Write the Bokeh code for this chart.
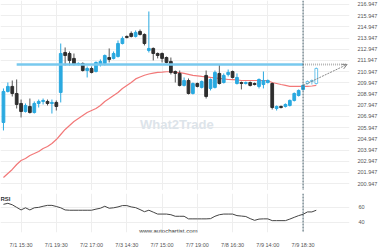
from bokeh.plotting import figure
from bokeh.layouts import column
from bokeh.models import (ColumnDataSource, FixedTicker, PrintfTickFormatter, Range1d,
                          Span, Arrow, OpenHead, Label)
from bokeh.embed import file_html
from bokeh.resources import INLINE

# ---------------- data ----------------
opens = [206.41, 209.18, 209.63, 209.00, 208.11, 207.39, 207.84, 207.30, 208.11, 208.29,
         208.29, 208.11, 208.20, 209.09, 212.66, 212.57, 212.13, 211.59, 211.68, 211.05,
         211.23, 210.96, 211.59, 211.68, 212.21, 212.13, 212.30, 213.46, 214.09, 214.36,
         214.09, 214.54, 214.27, 212.84, 213.02, 212.57, 212.57, 212.21, 211.86, 210.96,
         210.79, 209.72, 210.16, 209.00, 209.89, 209.54, 210.61, 209.45, 209.54, 210.79,
         209.98, 210.70, 210.96, 209.89, 209.98, 209.89, 209.98, 209.89, 209.63, 209.80,
         209.98, 209.89, 207.66, 207.84, 207.84, 207.93, 208.38, 208.82, 209.36, 209.89,
         210.07, 209.89]
closes = [209.18, 209.63, 209.00, 208.02, 207.39, 207.93, 207.30, 208.11, 208.29, 208.38,
          208.11, 208.20, 207.84, 212.57, 212.39, 211.95, 211.59, 211.68, 211.05, 211.23,
          210.88, 211.77, 211.86, 212.39, 212.04, 212.57, 213.46, 213.91, 214.00, 214.09,
          214.45, 214.27, 213.46, 213.02, 212.57, 212.39, 212.13, 211.77, 210.88, 210.79,
          209.72, 210.16, 209.00, 209.89, 209.63, 210.07, 208.73, 210.25, 210.88, 209.89,
          210.61, 210.88, 210.43, 210.43, 209.89, 209.98, 209.72, 209.80, 210.25, 210.16,
          210.16, 207.75, 207.84, 207.75, 208.02, 208.38, 209.00, 209.27, 209.72, 210.07,
          210.16, 211.23]
highs = [209.45, 209.98, 210.16, 210.25, 208.46, 208.11, 208.55, 208.29, 208.46, 208.55,
         208.46, 208.46, 208.38, 213.46, 213.11, 212.75, 212.57, 211.77, 211.77, 211.41,
         211.41, 211.86, 212.04, 212.48, 213.02, 212.75, 213.73, 214.09, 214.18, 214.54,
         214.63, 214.71, 214.36, 216.32, 213.11, 212.66, 212.66, 212.30, 212.21, 211.05,
         211.05, 210.43, 210.34, 209.98, 209.98, 210.16, 211.05, 210.34, 211.05, 211.59,
         210.79, 211.14, 211.05, 210.79, 210.07, 210.07, 210.07, 209.98, 210.34, 210.96,
         210.25, 209.98, 207.93, 207.93, 208.11, 208.46, 209.09, 209.36, 209.80, 210.16,
         210.25, 211.32]
lows = [205.70, 209.09, 208.73, 207.66, 206.86, 207.30, 207.21, 207.21, 207.75, 208.02,
        207.93, 207.21, 207.48, 208.20, 211.50, 211.50, 211.50, 211.50, 210.96, 210.43,
        210.79, 210.88, 211.41, 211.50, 211.77, 212.04, 212.21, 213.38, 213.91, 214.00,
        214.00, 214.18, 213.29, 212.66, 211.95, 212.13, 211.77, 211.68, 210.70, 209.98,
        209.63, 209.63, 208.91, 208.91, 209.54, 209.45, 208.55, 209.27, 209.45, 209.80,
        209.89, 210.52, 210.34, 209.80, 209.36, 209.80, 209.63, 209.72, 209.45, 209.45,
        209.89, 207.57, 207.48, 207.66, 207.75, 207.84, 208.29, 208.73, 209.27, 209.80,
        209.80, 209.80]
ma_values = [201.50, 201.86, 202.22, 202.66, 203.02, 203.20, 203.47, 203.64, 203.82, 204.09,
             204.27, 204.54, 204.89, 205.34, 205.79, 206.14, 206.50, 206.77, 207.04, 207.30,
             207.48, 207.66, 207.93, 208.29, 208.55, 208.82, 209.09, 209.45, 209.72, 209.98,
             210.30, 210.47, 210.63, 210.74, 210.82, 210.88, 210.90, 210.94, 210.94, 210.88,
             210.86, 210.79, 210.70, 210.61, 210.58, 210.52, 210.49, 210.43, 210.40, 210.34,
             210.31, 210.25, 210.23, 210.21, 210.16, 210.16, 210.16, 210.16, 210.16, 210.16,
             210.14, 209.98, 209.89, 209.80, 209.72, 209.63, 209.63, 209.63, 209.63, 209.63,
             209.67, 209.72]
rsi_values = [64.1, 65.5, 63.5, 60.0, 56.5, 59.4, 56.5, 59.4, 60.0, 61.5,
              62.7, 62.7, 61.2, 59.4, 56.5, 56.1, 56.1, 56.1, 56.1, 56.1,
              56.1, 57.6, 58.8, 61.5, 58.8, 59.4, 60.6, 62.4, 62.4, 60.6,
              59.6, 57.0, 54.1, 56.1, 53.5, 50.9, 50.9, 50.9, 50.0, 47.9,
              47.9, 47.9, 44.4, 44.4, 44.4, 44.4, 44.4, 44.7, 47.9, 50.0,
              50.9, 50.9, 50.9, 48.8, 48.2, 47.6, 44.7, 42.4, 44.1, 44.4,
              44.4, 42.0, 42.0, 42.0, 42.0, 44.1, 46.5, 48.8, 50.6, 53.8,
              53.8, 56.1]
tick_positions = [4, 12, 20, 28, 36, 44, 52, 60, 68]
tick_labels = ["7/1 15:30", "7/1 19:30", "7/2 17:00", "7/3 14:30", "7/7 15:00",
               "7/7 19:00", "7/8 16:30", "7/9 14:00", "7/9 18:30"]
price_ticks = [200.947, 201.947, 202.947, 203.947, 204.947, 205.947, 206.947, 207.947,
               208.947, 209.947, 210.947, 211.947, 212.947, 213.947, 214.947, 215.947, 216.947]
rsi_ticks = [40, 60]
resistance_level = 211.59
resistance_start = 3
breakout_index = 68
projection_end = 78
hollow_from = 69

# ---------------- styling ----------------
BLUE = "#2aa9e0"
DARK = "#2e2e2e"
FONT = "Liberation Sans"
TICK_SIZE = "5.5px"
GRID = "#eeeeee"

idx = list(range(len(opens)))
tops, bottoms, fills, lines, wicks = [], [], [], [], []
for i, (o, c) in enumerate(zip(opens, closes)):
    tops.append(max(o, c))
    bottoms.append(min(o, c))
    if i >= hollow_from:
        fills.append("white"); lines.append("#6cc3ea"); wicks.append("#6cc3ea")
    elif c >= o:
        fills.append(BLUE); lines.append(BLUE); wicks.append(BLUE)
    else:
        fills.append(DARK); lines.append(DARK); wicks.append("#555555")
src = ColumnDataSource(dict(x=idx, top=tops, bottom=bottoms, high=highs, low=lows,
                            fill=fills, line=lines, wick=wicks))

x_start = -0.67
x_end = 78.54

# ---------------- price panel ----------------
p = figure(width=380, height=190, output_backend="svg", toolbar_location=None,
           x_range=Range1d(x_start, x_end), y_range=Range1d(200.34, 217.30),
           x_axis_location=None, y_axis_location="right",
           min_border_left=0, min_border_right=23, min_border_top=0, min_border_bottom=0)
p.outline_line_color = None
p.background_fill_color = "white"
p.border_fill_color = "white"
p.yaxis.ticker = FixedTicker(ticks=price_ticks)
p.yaxis.formatter = PrintfTickFormatter(format="%.3f")
p.yaxis.axis_line_color = None
p.yaxis.major_tick_line_color = None
p.yaxis.minor_tick_line_color = None
p.yaxis.major_label_standoff = 2
p.yaxis.major_label_text_font = FONT
p.yaxis.major_label_text_font_size = TICK_SIZE
p.yaxis.major_label_text_color = "#555555"
p.ygrid.ticker = FixedTicker(ticks=price_ticks)
p.ygrid.grid_line_color = GRID
p.xgrid.ticker = FixedTicker(ticks=tick_positions)
p.xgrid.grid_line_color = GRID

p.add_layout(Label(x=31, y=205.55, text="What2Trade", text_font=FONT,
                   text_font_size="13px", text_font_style="bold", text_color="#dde4ea"))

p.line(idx, ma_values, line_color="#f27878", line_width=1.2)
p.segment(x0="x", y0="low", x1="x", y1="high", line_color="wick", line_width=1, source=src)
p.vbar(x="x", top="top", bottom="bottom", width=0.62, fill_color="fill",
       line_color="line", line_width=1, source=src)

p.line([resistance_start, breakout_index], [resistance_level, resistance_level],
       line_color="#78c9ee", line_width=2.5)
p.line([breakout_index, projection_end], [resistance_level, resistance_level],
       line_color="#b5b5b5", line_width=2, line_dash="1 1")
p.add_layout(Arrow(end=OpenHead(size=5, line_color="#888888", line_width=1),
                   x_start=breakout_index, y_start=closes[breakout_index],
                   x_end=projection_end, y_end=resistance_level,
                   line_color="#888888", line_width=1, line_dash="2 1"))
p.add_layout(Span(location=breakout_index, dimension="height", line_color="#45606c",
                  line_width=1, line_dash="2 1"))

# ---------------- RSI panel ----------------
r = figure(width=380, height=60, output_backend="svg", toolbar_location=None,
           x_range=p.x_range, y_range=Range1d(25.9, 78.8), y_axis_location="right",
           min_border_left=0, min_border_right=23, min_border_top=3, min_border_bottom=12)
r.outline_line_color = None
r.background_fill_color = "white"
r.border_fill_color = "white"
r.yaxis.ticker = FixedTicker(ticks=rsi_ticks)
r.yaxis.axis_line_color = None
r.yaxis.major_tick_line_color = None
r.yaxis.minor_tick_line_color = None
r.yaxis.major_label_standoff = 3
r.yaxis.major_label_text_font = FONT
r.yaxis.major_label_text_font_size = TICK_SIZE
r.yaxis.major_label_text_color = "#555555"
r.xaxis.ticker = FixedTicker(ticks=tick_positions)
r.xaxis.major_label_overrides = {t: lab for t, lab in zip(tick_positions, tick_labels)}
r.xaxis.axis_line_color = None
r.xaxis.major_tick_line_color = None
r.xaxis.minor_tick_line_color = None
r.xaxis.major_label_standoff = 3
r.xaxis.major_label_text_font = FONT
r.xaxis.major_label_text_font_size = TICK_SIZE
r.xaxis.major_label_text_color = "#555555"
r.ygrid.ticker = FixedTicker(ticks=rsi_ticks)
r.ygrid.grid_line_color = GRID
r.xgrid.ticker = FixedTicker(ticks=tick_positions)
r.xgrid.grid_line_color = GRID

r.line(idx, rsi_values, line_color="#444444", line_width=1)
r.add_layout(Span(location=breakout_index, dimension="height", line_color="#45606c",
                  line_width=1, line_dash="2 1"))
r.add_layout(Label(x=x_start, y=71.8, text="RSI", text_font=FONT, text_font_size="6px",
                   text_font_style="bold", text_color="#333333", text_baseline="middle"))
r.add_layout(Label(x=30.8, y=28.3, text="www.autochartist.com", text_font=FONT,
                   text_font_size="6px", text_color="#333333", text_baseline="middle"))

layout = column(p, r, spacing=0)
open("out.html", "w").write(file_html(layout, INLINE))
